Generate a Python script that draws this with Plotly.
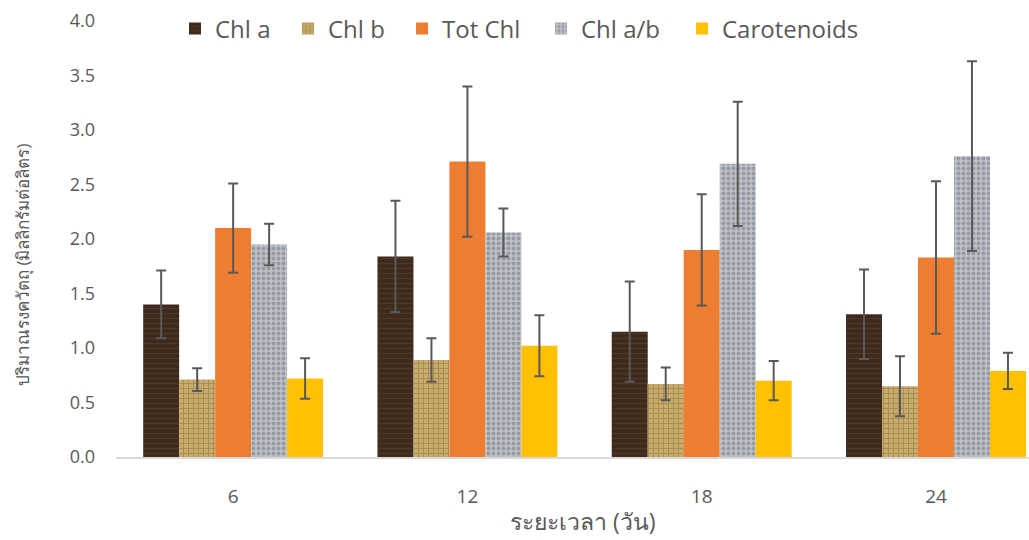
import plotly.graph_objects as go

categories = ["6", "12", "18", "24"]
series_names = ["Chl a", "Chl b", "Tot Chl", "Chl a/b", "Carotenoids"]

chl_a = [1.40, 1.84, 1.15, 1.31]
chl_a_err = [0.31, 0.51, 0.46, 0.41]
chl_b = [0.71, 0.89, 0.67, 0.65]
chl_b_err = [0.105, 0.20, 0.15, 0.275]
tot_chl = [2.10, 2.71, 1.90, 1.83]
tot_chl_err = [0.41, 0.69, 0.51, 0.70]
chl_ab = [1.95, 2.06, 2.69, 2.76]
chl_ab_err = [0.19, 0.22, 0.57, 0.87]
carot = [0.72, 1.02, 0.70, 0.79]
carot_err = [0.185, 0.28, 0.18, 0.167]

values = [chl_a, chl_b, tot_chl, chl_ab, carot]
errors = [chl_a_err, chl_b_err, tot_chl_err, chl_ab_err, carot_err]

styles = [
    dict(color="#3d2a1c", pattern=dict(shape="-", fgcolor="#5c4433", size=5, solidity=0.25)),
    dict(color="#c9ab6e", pattern=dict(shape="+", fgcolor="#8a6c35", size=5, solidity=0.35)),
    dict(color="#ED7D31"),
    dict(color="#bcc0c7", pattern=dict(shape=".", fgcolor="#70757e", size=5, solidity=0.45)),
    dict(color="#FFC000"),
]

W, H = 1029, 540
ml, mr, mt, mb = 116, 0, 21, 83
pw, ph = W - ml - mr, H - mt - mb

# legend entry left positions (px) in the reference
legend_px = [175, 288, 402, 541, 682]
legend_names = ["legend", "legend2", "legend3", "legend4", "legend5"]

fig = go.Figure()
for name, v, e, st, lg in zip(series_names, values, errors, styles, legend_names):
    fig.add_trace(go.Bar(
        name=name, x=categories, y=v, legend=lg,
        marker=dict(line=dict(width=0), **st),
        error_y=dict(type="data", array=e, visible=True, color="#595959",
                     thickness=2, width=5),
    ))

font_family = "Open Sans, Noto Sans, DejaVu Sans, sans-serif"

layout_legends = {}
for lg, px in zip(legend_names, legend_px):
    layout_legends[lg] = dict(
        x=(px - ml) / pw, xanchor="left", y=1 - (29 - mt) / ph, yanchor="middle",
        font=dict(size=24, color="#595959", family=font_family), itemwidth=30,
        bgcolor="rgba(0,0,0,0)", orientation="h",
    )

fig.update_layout(
    width=W, height=H,
    margin=dict(l=ml, r=mr, t=mt, b=mb, pad=0),
    paper_bgcolor="white", plot_bgcolor="white",
    barmode="group", bargap=0.232, bargroupgap=0,
    font=dict(family=font_family, color="#595959", size=18),
    showlegend=True,
    xaxis=dict(type="category", range=[-0.5, 3.397], showgrid=False,
               showline=True, linecolor="#d9d9d9", linewidth=2,
               ticks="", tickfont=dict(size=19, color="#595959"),
               ticklabelstandoff=21),
    yaxis=dict(range=[0, 4.0], dtick=0.5, tickformat=".1f", showgrid=False,
               zeroline=False, showline=False, ticks="",
               tickfont=dict(size=18, color="#595959"), ticklabelstandoff=20),
    **layout_legends,
)

fig.add_annotation(text="ปริมาณรงควัตถุ (มิลลิกรัมต่อลิตร)", textangle=-90,
                   xref="paper", yref="paper",
                   x=(22 - ml) / pw, y=1 - (265 - mt) / ph,
                   showarrow=False, font=dict(size=17, color="#595959"),
                   xanchor="center", yanchor="middle")
fig.add_annotation(text="ระยะเวลา (วัน)",
                   xref="paper", yref="paper",
                   x=(583 - ml) / pw, y=1 - (521 - mt) / ph,
                   showarrow=False, font=dict(size=23, color="#595959"),
                   xanchor="center", yanchor="middle")

fig.write_html("out.html")
